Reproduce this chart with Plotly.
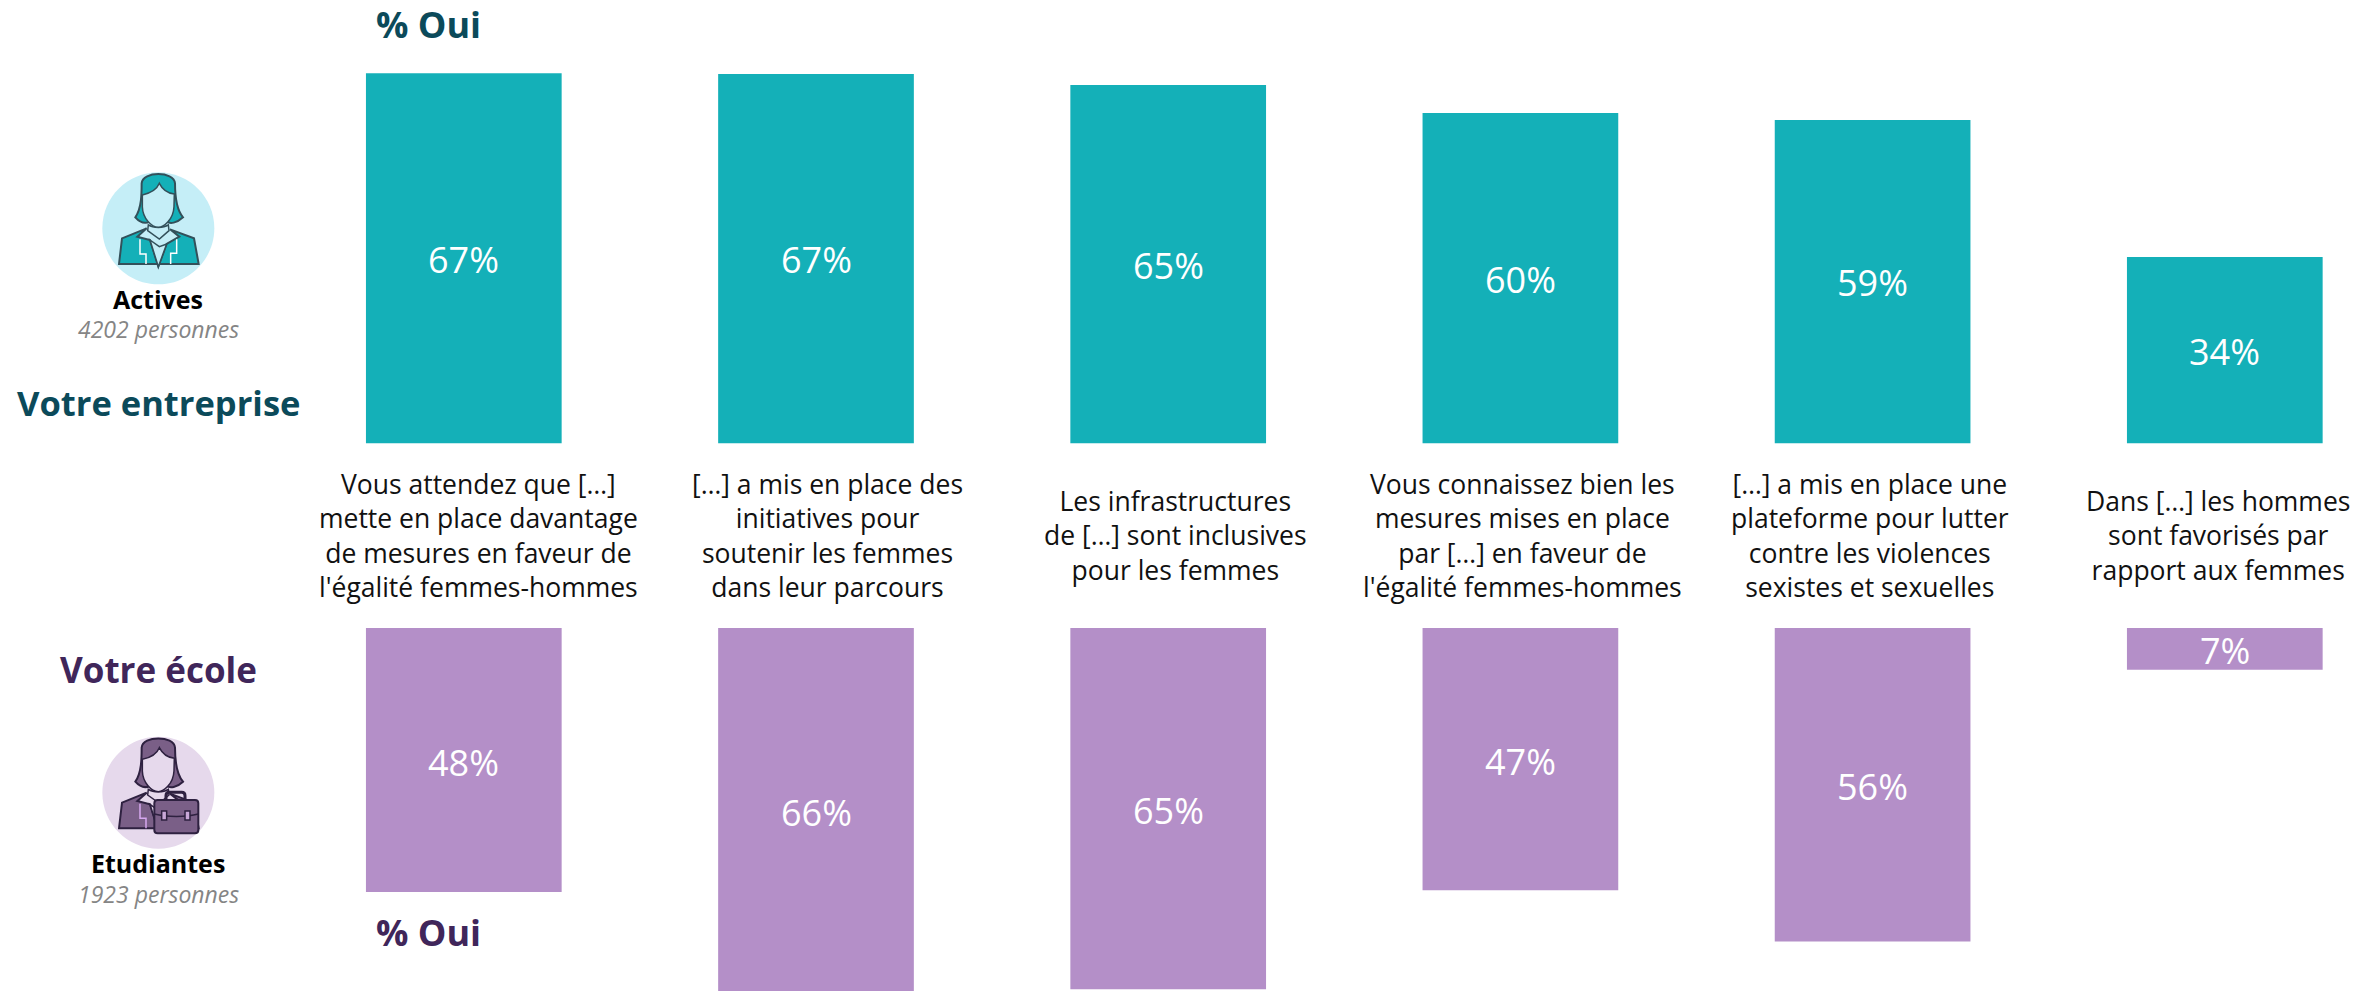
import plotly.graph_objects as go

W, H = 2374, 991

categories = ["c1", "c2", "c3", "c4", "c5", "c6"]
cat_labels = [
    "Vous attendez que […]<br>mette en place davantage<br>de mesures en faveur de<br>l'égalité femmes-hommes",
    "[…] a mis en place des<br>initiatives pour<br>soutenir les femmes<br>dans leur parcours",
    "Les infrastructures<br>de […] sont inclusives<br>pour les femmes",
    "Vous connaissez bien les<br>mesures mises en place<br>par […] en faveur de<br>l'égalité femmes-hommes",
    "[…] a mis en place une<br>plateforme pour lutter<br>contre les violences<br>sexistes et sexuelles",
    "Dans […] les hommes<br>sont favorisés par<br>rapport aux femmes",
]
actives = [67.3, 67.2, 65.2, 60.1, 58.8, 33.9]
etudiantes = [48.0, 66.3, 65.7, 47.7, 57.0, 7.6]
actives_text = ["67%", "67%", "65%", "60%", "59%", "34%"]
etudiantes_text = ["48%", "66%", "65%", "47%", "56%", "7%"]

TEAL, PURPLE = "#14B0B8", "#B48FC8"
DTEAL, DPURPLE = "#0B4A5A", "#40265A"
FONT = "Open Sans"

PX_PER_PCT = 5.5
BASE_TOP, BASE_BOT = 443.5, 628
C0, STEP, BARW = 463.8, 352.2, 195.7
LABEL_X = [478.5, 827, 1175, 1522, 1870, 2218]


def fx(p):
    return p / W


def fy(p):
    return 1 - p / H


def bars(vals, color, yaxis):
    return go.Bar(x=categories, y=vals, marker=dict(color=color, line_width=0),
                  xaxis="x", yaxis=yaxis, hoverinfo="skip", showlegend=False)


fig = go.Figure([bars(actives, TEAL, "y"), bars(etudiantes, PURPLE, "y2")])

axis_off = dict(visible=False, showgrid=False, zeroline=False)
fig.update_layout(
    width=W, height=H, autosize=False,
    margin=dict(l=0, r=0, t=0, b=0),
    paper_bgcolor="white", plot_bgcolor="white",
    bargap=1 - BARW / STEP,
    xaxis=dict(axis_off, type="category", categoryorder="array", categoryarray=categories,
               range=[-C0 / STEP, (W - C0) / STEP], domain=[0, 1]),
    yaxis=dict(axis_off, range=[0, BASE_TOP / PX_PER_PCT], domain=[fy(BASE_TOP), 1]),
    yaxis2=dict(axis_off, range=[(H - BASE_BOT) / PX_PER_PCT, 0], domain=[0, fy(BASE_BOT)]),
)

for cat, v, t in zip(categories, actives, actives_text):
    fig.add_annotation(text=t, x=cat, y=v / 2, xref="x", yref="y", yshift=-1, showarrow=False,
                       font=dict(family=FONT, size=36, color="white"))
for cat, v, t in zip(categories, etudiantes, etudiantes_text):
    fig.add_annotation(text=t, x=cat, y=v / 2, xref="x", yref="y2", yshift=-2, showarrow=False,
                       font=dict(family=FONT, size=36, color="white"))


def note(text, px, py, size, color, bold=False, italic=False, family=FONT):
    t = f"<b>{text}</b>" if bold else text
    t = f"<i>{t}</i>" if italic else t
    fig.add_annotation(text=t, x=fx(px), y=fy(py), xref="paper", yref="paper", showarrow=False,
                       xanchor="center", yanchor="middle", align="center",
                       font=dict(family=family, size=size, color=color))


for lx, lab in zip(LABEL_X, cat_labels):
    note(lab, lx, 535, 26.5, "#111111")

note("% Oui", 428, 24, 36, DTEAL, bold=True)
note("% Oui", 428, 932, 36, DPURPLE, bold=True)
note("Votre entreprise", 158, 403, 34.5, DTEAL, bold=True)
note("Votre école", 158, 669, 35, DPURPLE, bold=True)
note("Actives", 158, 299, 25, "#000000", bold=True)
note("4202 personnes", 158, 329, 23, "#858585", italic=True)
note("Etudiantes", 158, 863, 25, "#000000", bold=True)
note("1923 personnes", 158, 894, 23, "#858585", italic=True)


# icons: outlines given in the coordinates of a crop, converted to page fractions
def pth(d, ox, oy):
    out = []
    is_x = True
    for t in d.split():
        if t.isalpha():
            out.append(t)
            is_x = True
        else:
            for part in t.split(","):
                v = float(part)
                if is_x:
                    out.append(f"{fx(ox + v / 3):.5f},")
                else:
                    out[-1] += f"{fy(oy + v / 3):.5f}"
                is_x = not is_x
    return " ".join(out)


def shape(d, ox, oy, fill=None, line=None, w=1.5):
    s = dict(type="path", xref="paper", yref="paper", path=pth(d, ox, oy), layer="above")
    s["fillcolor"] = fill if fill else "rgba(0,0,0,0)"
    s["line"] = dict(color=line if line else "rgba(0,0,0,0)", width=w if line else 0)
    fig.add_shape(**s)


CIRCLE = "M 307,265 C 307,172 382,97 475,97 C 568,97 643,172 643,265 C 643,358 568,433 475,433 C 382,433 307,358 307,265 Z"
HAIR = "M 406,232 C 425,205 425,160 425,130 C 428,93 522,93 525,130 C 525,165 530,210 549,232 C 530,250 510,252 500,245 L 450,245 C 435,252 420,248 406,232 Z"
FACE = "M 427,165 C 450,160 470,150 478,130 C 488,150 505,160 523,162 L 522,200 C 520,240 490,262 475,262 C 455,262 428,235 427,200 Z"
NECK = "M 445,255 L 443,272 L 478,297 L 507,272 L 505,255 C 490,265 460,265 445,255 Z"
BODY = "M 357,372 L 366,295 L 440,265 L 412,290 L 450,300 L 475,380 L 500,312 L 538,290 L 510,268 L 582,295 L 596,372 Z"
SHIRT = "M 450,300 L 478,320 L 500,312 L 475,380 Z"
TRIM_L = "M 420,298 L 420,342 L 438,342 L 438,372"
TRIM_R = "M 530,298 L 530,340 L 512,340 L 512,372"
CASE = "M 463,520 Q 463,510 473,510 L 585,510 Q 595,510 595,520 L 595,600 Q 595,610 585,610 L 473,610 Q 463,610 463,600 Z"
HANDLE = "M 498,510 L 498,497 Q 498,487 508,487 L 545,487 Q 555,487 555,497 L 555,510"
SEAM = "M 463,552 C 500,562 558,562 595,552"
CLASP_L = "M 485,543 L 500,543 L 500,570 L 485,570 Z"
CLASP_R = "M 555,543 L 570,543 L 570,570 L 555,570 Z"

# teal woman
ox, oy = 0, 140
shape(CIRCLE, ox, oy, fill="#C5EEF7")
shape(BODY, ox, oy, fill=TEAL, line="#33505A", w=2)
shape(SHIRT, ox, oy, fill="#C5EEF7", line="#33505A", w=1.5)
shape(TRIM_L, ox, oy, line="white", w=1.5)
shape(TRIM_R, ox, oy, line="white", w=1.5)
shape(HAIR, ox, oy, fill=TEAL, line="#33505A", w=2)
shape(NECK, ox, oy, fill="#C5EEF7", line="#33505A", w=1.5)
shape(FACE, ox, oy, fill="#C5EEF7", line="#33505A", w=1.5)

# purple woman with briefcase (outlines reused, shifted down)
ox, oy = 0, 630 + 223 / 3
IC = "#7A5F87"
LT = "#E6D9EC"
OUT = "#2E2140"
shape(CIRCLE, ox, oy, fill=LT)
shape(BODY, ox, oy, fill=IC, line=OUT, w=2)
shape(SHIRT, ox, oy, fill=LT, line=OUT, w=1.5)
shape(TRIM_L, ox, oy, line="#D6A8F0", w=1.5)
shape(HAIR, ox, oy, fill=IC, line=OUT, w=2)
shape(NECK, ox, oy, fill=LT, line=OUT, w=1.5)
shape(FACE, ox, oy, fill=LT, line=OUT, w=1.5)
oy2 = 630
shape(HANDLE, ox, oy2, line=OUT, w=3)
shape(CASE, ox, oy2, fill=IC, line=OUT, w=2)
shape(SEAM, ox, oy2, line=OUT, w=1.5)
shape(CLASP_L, ox, oy2, fill="#C9A8D8", line=OUT, w=1.5)
shape(CLASP_R, ox, oy2, fill="#C9A8D8", line=OUT, w=1.5)

fig.write_html("out.html", config={"displayModeBar": False},
               post_script="document.body.style.margin='0';document.documentElement.style.overflow='hidden';")
